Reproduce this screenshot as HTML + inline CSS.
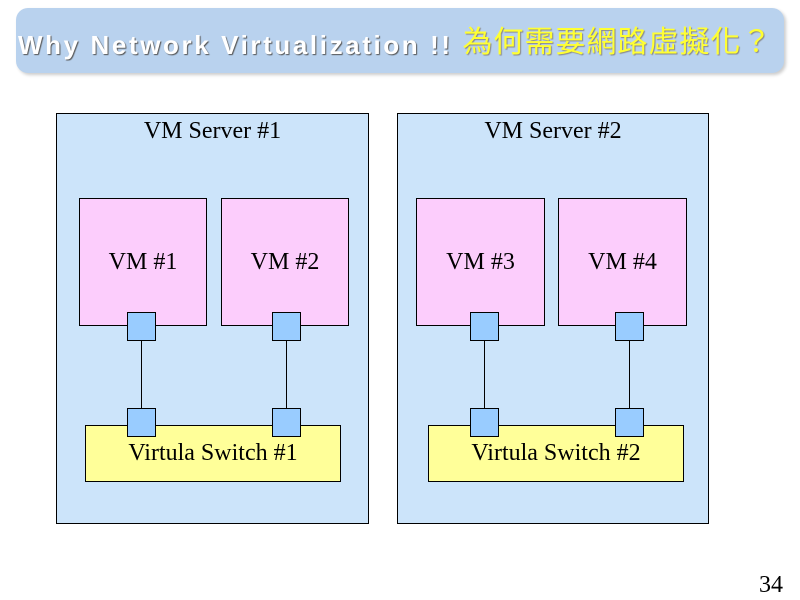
<!DOCTYPE html>
<html><head><meta charset="utf-8"><style>
body{margin:0;width:800px;height:600px;background:#fff;position:relative;overflow:hidden;font-family:"Liberation Serif",serif}
div{position:absolute;box-sizing:border-box}
.srv{background:#cce4fa;border:1px solid #000}
.vm{background:#fccdfc;border:1px solid #000;font-size:24px;display:flex;align-items:center;justify-content:center}
.pt{background:#99ccff;border:1px solid #000;width:29px;height:29px}
.ln{background:#000;width:1px}
.sw{background:#ffff99;border:1px solid #000;font-size:24px;text-align:center;padding-top:14px}
.lbl{font-size:24px;text-align:center}
</style></head><body>
<div style="left:16px;top:8px;width:768px;height:65px;background:#b9d2ee;border-radius:12px;box-shadow:2px 2px 3px #ccc"></div>
<div style="left:18px;top:19px;width:790px;font-family:'Liberation Sans',sans-serif;font-weight:bold;font-size:26px;letter-spacing:2.6px;color:#fff;text-shadow:1px 1px 1px #555;white-space:nowrap">Why Network Virtualization !! <span style="font-family:'Noto Sans CJK TC','WenQuanYi Zen Hei',sans-serif;font-weight:normal;color:#ffff33;font-size:30px;letter-spacing:1px;position:relative;top:-2px;text-shadow:1px 1px 1px #888">為何需要網路虛擬化？</span></div>

<div class="srv" style="left:56px;top:113px;width:313px;height:411px"></div>
<div class="srv" style="left:397px;top:113px;width:312px;height:411px"></div>
<div class="lbl" style="left:56px;top:118px;width:313px">VM Server #1</div>
<div class="lbl" style="left:397px;top:118px;width:312px">VM Server #2</div>

<div class="vm" style="left:79px;top:198px;width:128px;height:128px">VM #1</div>
<div class="vm" style="left:221px;top:198px;width:128px;height:128px">VM #2</div>
<div class="vm" style="left:416px;top:198px;width:129px;height:128px">VM #3</div>
<div class="vm" style="left:558px;top:198px;width:129px;height:128px">VM #4</div>

<div class="sw" style="left:85px;top:425px;width:256px;height:57px">Virtula Switch #1</div>
<div class="sw" style="left:428px;top:425px;width:256px;height:57px">Virtula Switch #2</div>

<div class="ln" style="left:141px;top:340px;height:69px"></div>
<div class="ln" style="left:286px;top:340px;height:69px"></div>
<div class="ln" style="left:484px;top:340px;height:69px"></div>
<div class="ln" style="left:629px;top:340px;height:69px"></div>

<div class="pt" style="left:127px;top:312px"></div>
<div class="pt" style="left:272px;top:312px"></div>
<div class="pt" style="left:470px;top:312px"></div>
<div class="pt" style="left:615px;top:312px"></div>
<div class="pt" style="left:127px;top:408px"></div>
<div class="pt" style="left:272px;top:408px"></div>
<div class="pt" style="left:470px;top:408px"></div>
<div class="pt" style="left:615px;top:408px"></div>

<div style="left:730px;top:572px;width:53px;text-align:right;font-size:24px">34</div>
</body></html>
